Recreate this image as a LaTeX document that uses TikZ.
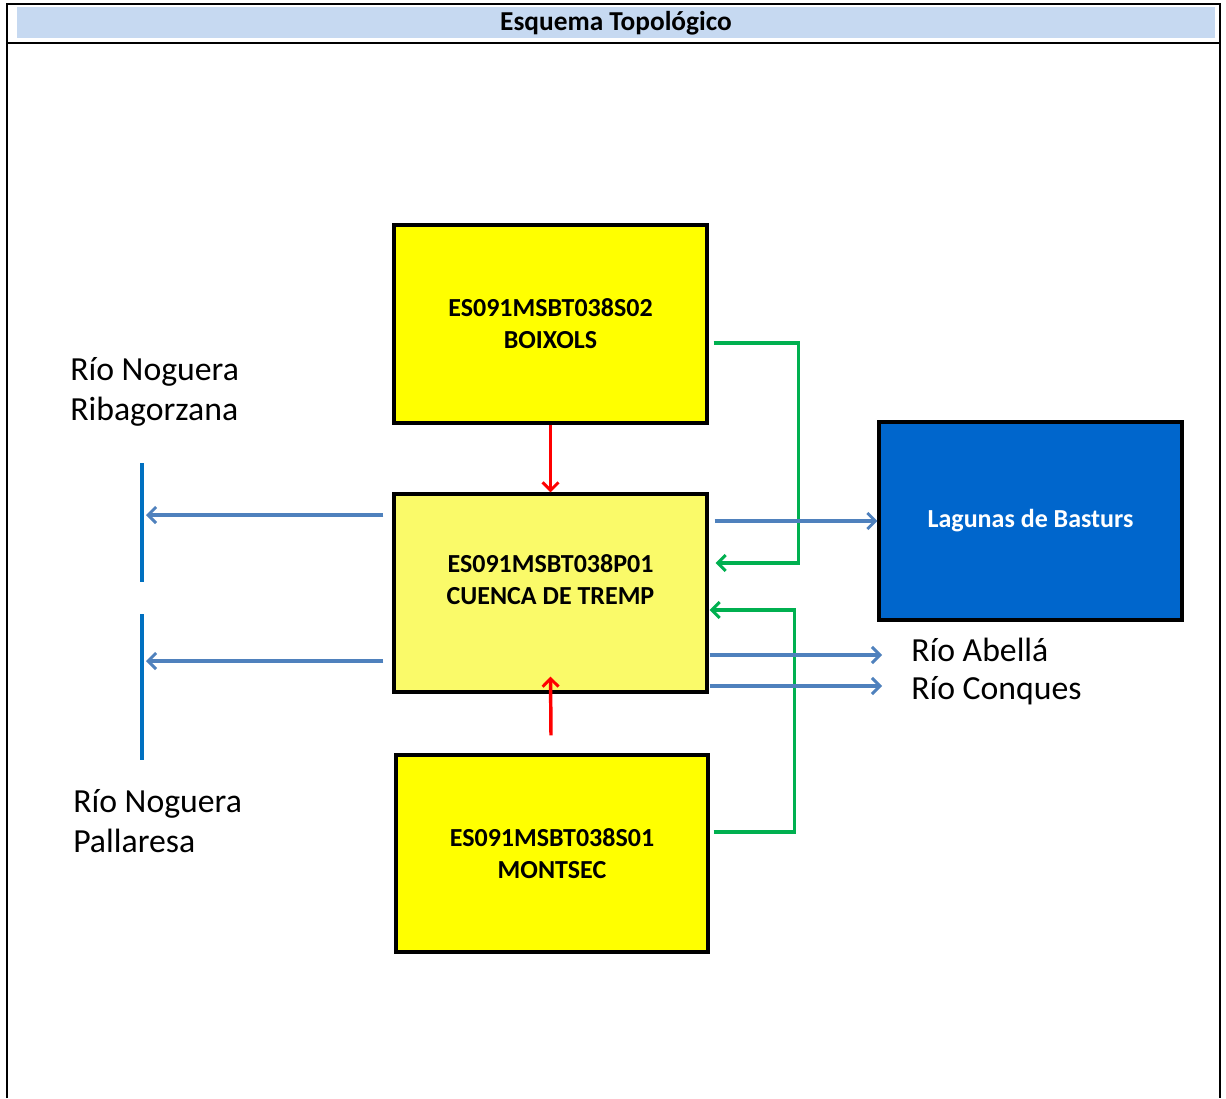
\documentclass[tikz,border=0pt]{standalone}
\usepackage{fontspec}
\setmainfont{Carlito}
\usetikzlibrary{arrows.meta,calc}
\definecolor{headfill}{RGB}{198,217,241}
\definecolor{boxyellow}{RGB}{255,255,0}
\definecolor{paleyellow}{RGB}{250,250,105}
\definecolor{lakeblue}{RGB}{0,102,204}
\definecolor{flowgreen}{RGB}{0,176,80}
\definecolor{flowblue}{RGB}{79,129,189}
\definecolor{riverblue}{RGB}{0,112,192}
\begin{document}
\begin{tikzpicture}[x=0.75pt,y=-0.75pt,
  unitfont/.style={font=\bfseries\fontsize{19.5}{24}\selectfont},
  unit/.style={draw=black,line width=2.4pt,minimum width=313*0.75pt,minimum height=198*0.75pt,
    inner sep=0pt,align=center,unitfont},
  label/.style={inner sep=0pt,anchor=west,align=left,font=\fontsize{25.3}{30}\selectfont},
  barb/.style={-{Straight Barb[length=6pt,width=12pt,line width=2.2pt]}},
  redflow/.style={barb,draw=red,line width=2.6pt},
  greenflow/.style={barb,draw=flowgreen,line width=2.6pt},
  blueflow/.style={barb,draw=flowblue,line width=2.6pt},
  river/.style={draw=riverblue,line width=3.5pt},
  frame/.style={draw=black,line width=1.6pt}]
\useasboundingbox (0,0) rectangle (1226,1098);
\fill[white] (0,0) rectangle (1226,1098);

% header row of the sheet
\fill[headfill] (17,7) rectangle (1215,38);
\node[font=\bfseries\fontsize{20.5}{24}\selectfont] (title) at (616,23) {Esquema Topológico};
\draw[frame] (7,1098) -- (7,4) -- (1220,4) -- (1220,1098);
\draw[frame] (7,43) -- (1220,43);

% water bodies
\node[unit,fill=boxyellow] (boix) at (550.5,324) {ES091MSBT038S02\\BOIXOLS};
\node[unit,fill=paleyellow] (cuenca) at (550.5,593) {};
\node[unitfont,align=center,inner sep=0pt] (cuencatxt) at ($(cuenca)+(0,-13)$) {ES091MSBT038P01\\CUENCA DE TREMP};
\node[unit,fill=boxyellow,minimum width=312*0.75pt,minimum height=197*0.75pt] (mont) at (552,853.5) {ES091MSBT038S01\\MONTSEC};
\node[unit,fill=lakeblue,text=white,minimum width=303*0.75pt] (lag) at (1030.5,521) {Lagunas de Basturs};

% rivers
\node[label] (ribag) at (70,392) {Río Noguera\\Ribagorzana};
\node[label] (palla) at (73,821) {Río Noguera\\Pallaresa};
\node[label] (abella) at (911,650) {Río Abellá};
\node[label] (conques) at (911,691) {Río Conques};
\coordinate (r1top) at (142,463);
\coordinate (r1bot) at (142,582);
\coordinate (r2top) at (142,614);
\coordinate (r2bot) at (142,760);
\draw[river] (r1top) -- (r1bot);
\draw[river] (r2top) -- (r2bot);

% vertical transfers between aquifers
\draw[redflow] (boix.south) -- (cuenca.north);
\draw[redflow] ($(mont.north)+(-1,-18)$) -- ($(cuenca.south)+(0,-17)$);

% lateral transfers
\draw[greenflow] ($(boix.east)+(5,19)$) -- ++(85,0) |- ($(cuenca.east)+(7,-30)$);
\draw[greenflow] ($(mont.east)+(4,-21.5)$) -- ++(81,0) |- ($(cuenca.east)+(1,17)$);

% outflows
\draw[blueflow] ($(cuenca.east |- lag.west)+(6,0)$) -- (lag.west);
\draw[blueflow] ($(cuenca.east)+(1,62)$) coordinate (o1) -- ($(abella.west |- o1)+(-29,0)$);
\draw[blueflow] ($(cuenca.east)+(1,93)$) coordinate (o2) -- ($(conques.west |- o2)+(-29,0)$);
\draw[blueflow] ($(cuenca.west)+(-9,-78)$) coordinate (o3) -- ($(r1top |- o3)+(4,0)$);
\draw[blueflow] ($(cuenca.west)+(-9,68)$) coordinate (o4) -- ($(r2top |- o4)+(4,0)$);
\end{tikzpicture}
\end{document}
